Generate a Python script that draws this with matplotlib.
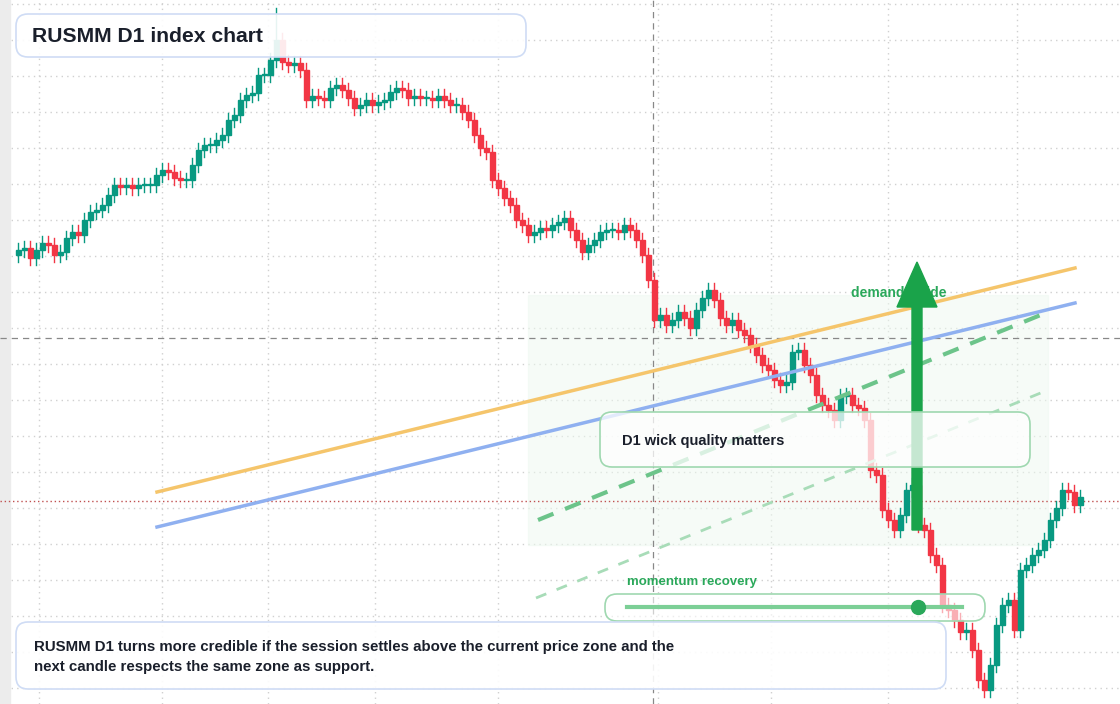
import numpy as np
import matplotlib
matplotlib.use("Agg")
import matplotlib.pyplot as plt
from matplotlib.patches import FancyBboxPatch, Rectangle, FancyArrow

# daily closes (index level)
CLOSE = [750, 752, 742, 750, 757, 755, 745, 748, 762, 768, 765, 780, 788, 790, 795, 805,
         815, 813, 815, 812, 815, 815, 815, 825, 830, 828, 822, 820, 820, 835, 850, 855,
         855, 860, 865, 880, 885, 900, 905, 907, 925, 925, 940, 960, 938, 935, 937, 930,
         900, 904, 902, 900, 912, 915, 910, 902, 892, 895, 900, 895, 898, 900, 908, 912,
         910, 902, 904, 902, 902, 900, 904, 900, 895, 895, 888, 880, 865, 852, 848, 820,
         812, 802, 795, 780, 775, 765, 768, 772, 770, 775, 778, 782, 770, 760, 748, 755,
         760, 768, 770, 770, 768, 775, 770, 760, 745, 720, 680, 685, 675, 680, 688, 682,
         672, 690, 702, 710, 700, 682, 675, 680, 670, 665, 655, 645, 635, 630, 620, 615,
         618, 648, 650, 635, 625, 605, 595, 590, 580, 604, 605, 595, 592, 580, 530, 525,
         490, 480, 470, 485, 510, 515, 475, 470, 445, 435, 395, 390, 380, 368, 370, 350,
         320, 310, 335, 375, 395, 400, 370, 430, 435, 445, 450, 460, 480, 492, 510, 508,
         495, 503]
FIRST_OPEN = 745
WICK = 7
SPIKE = {43: 25}   # extra upper wick at the top

UP, DOWN = "#089981", "#f23645"
FONT = ["Liberation Sans", "DejaVu Sans"]
plt.rcParams["font.family"] = FONT

fig = plt.figure(figsize=(11.2, 7.04), dpi=100)
ax = fig.add_axes([0, 0, 1, 1])
ax.set_xlim(0, 1120)
ax.set_ylim(296, 1000)
for s in ax.spines.values():
    s.set_visible(False)
ax.set_xticks([39, 162, 268, 375, 498, 658, 771, 888, 1017])
ax.set_yticks(np.arange(1000 - 688, 1000, 36))
ax.tick_params(length=0, labelbottom=False, labelleft=False)
ax.grid(True, color="#d0d0d0", ls=(0, (1, 3)), lw=1)
ax.set_axisbelow(True)

# zone shading and crosshair under the candles (price = 1000 - pixel row)
ax.add_patch(Rectangle((528, 1000 - 545), 520, 250, color="#eef9f0", alpha=0.5, zorder=1))
ax.axvline(653, color="#888888", ls=(0, (5, 4)), lw=0.9, zorder=2)
ax.axhline(1000 - 338, color="#888888", ls=(0, (5, 4)), lw=0.9, zorder=2)
ax.axhline(1000 - 501, color="#c05050", ls=(0, (1, 2)), lw=1, zorder=2)
ax.add_patch(Rectangle((0, 296), 10, 704, color="#ececec", zorder=1))

opens = [FIRST_OPEN] + CLOSE[:-1]
for i, (o, c) in enumerate(zip(opens, CLOSE)):
    x = 18 + 6 * i
    col = UP if c >= o else DOWN
    hi = max(o, c) + WICK + SPIKE.get(i, 0)
    lo = min(o, c) - WICK
    ax.plot([x, x], [lo, hi], color=col, lw=1, zorder=3)
    ax.add_patch(Rectangle((x - 2.5, min(o, c)), 5, max(abs(c - o), 1.5),
                           color=col, zorder=4))

# overlay in pixel coordinates for drawings and callouts
ov = fig.add_axes([0, 0, 1, 1])
ov.set_xlim(0, 1120)
ov.set_ylim(704, 0)
ov.axis("off")
ov.patch.set_alpha(0)

ov.plot([157, 1075], [492, 268], color="#f5c56b", lw=2.5, zorder=5)
ov.plot([157, 1075], [527, 303], color="#8fb0f0", lw=2.5, zorder=5)
ov.plot([538, 1048], [520, 312], color="#6cc48a", lw=3, ls=(0, (4, 3)), zorder=5)
ov.plot([536, 1048], [598, 390], color="#a8dcb8", lw=2, ls=(0, (4, 4)), zorder=5)

ov.text(851, 293, "demand stride", color="#2aa85a", fontsize=10, fontweight="bold",
        va="center", zorder=6)
ov.add_artist(FancyArrow(917, 530, 0, -223, width=10, head_width=40, head_length=45,
                         length_includes_head=False, color="#1aa34a", zorder=7))

def box(x0, y0, x1, y1, ec, z=8, alpha=0.82):
    ov.add_patch(FancyBboxPatch((x0, y0), x1 - x0, y1 - y0,
                                boxstyle="round,pad=0,rounding_size=12",
                                fc=(1, 1, 1, alpha), ec=ec, lw=1.2, zorder=z))

box(600, 412, 1030, 467, "#9fd8b0", alpha=0.75)
ov.text(622, 441, "D1 wick quality matters", fontsize=10.5, fontweight="bold",
        color="#1a1f2b", va="center", zorder=9)

ov.text(627, 582, "momentum recovery", color="#2aa85a", fontsize=9.5,
        fontweight="bold", va="center", zorder=9)
box(605, 594, 985, 621, "#9fd8b0", alpha=0.6)
ov.plot([627, 962], [607, 607], color="#7ccf96", lw=3, zorder=9)
ov.plot(918, 607, "o", color="#2aa85a", ms=10, zorder=10)

box(16, 622, 946, 689, "#cfdcf5", alpha=0.9)
ov.text(34, 657, "RUSMM D1 turns more credible if the session settles above the current price zone and the\n"
        "next candle respects the same zone as support.", fontsize=10.8, fontweight="bold",
        color="#1a1f2b", va="center", linespacing=1.5, zorder=9)

box(16, 14, 526, 57, "#cfdcf5", alpha=0.9)
ov.text(32, 36, "RUSMM D1 index chart", fontsize=15.2, fontweight="bold",
        color="#1a1f2b", va="center", zorder=9)

fig.savefig("out.png", dpi=100)
